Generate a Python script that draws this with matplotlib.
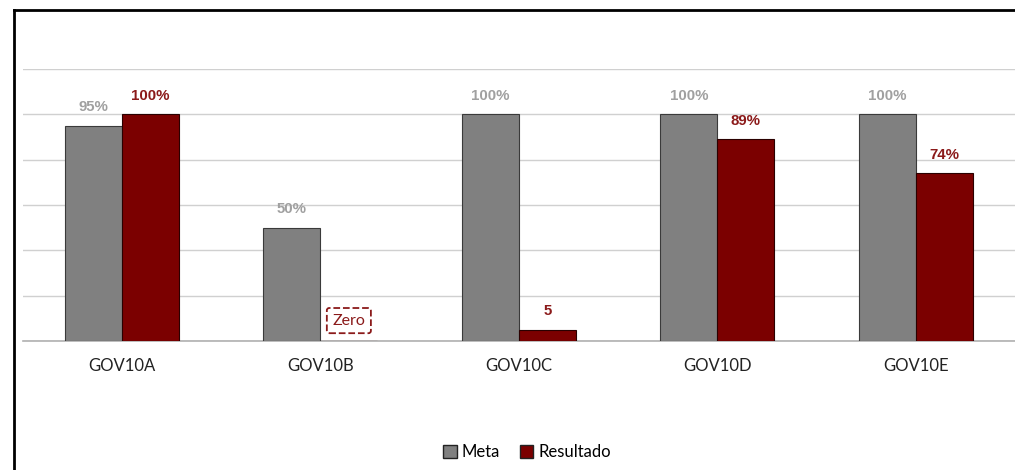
import matplotlib.pyplot as plt
import numpy as np
from matplotlib.lines import Line2D
from matplotlib.patches import Patch

categories = ["GOV10A", "GOV10B", "GOV10C", "GOV10D", "GOV10E"]
meta = [95, 50, 100, 100, 100]
resultado = [100, 0, 5, 89, 74]
meta_labels = ["95%", "50%", "100%", "100%", "100%"]
resultado_labels = ["100%", "", "5", "89%", "74%"]

gray = "#808080"
red = "#7b0000"
label_gray = "#a0a0a0"
label_red = "#8b1a1a"

fig = plt.figure(figsize=(10.15, 4.7), dpi=100)
ax = fig.add_axes([22.7 / 1015, 1 - 341 / 470, 1 - 22.7 / 1015, (341 - 69) / 470])

x = np.arange(len(categories))
w = 0.287
ax.bar(x - w / 2, meta, w, color=gray, edgecolor="#3a3a3a", linewidth=0.8, label="Meta", zorder=3)
ax.bar(x + w / 2, resultado, w, color=red, edgecolor="#2a0000", linewidth=0.8, label="Resultado", zorder=3)

# data labels
for i in range(len(categories)):
    ax.annotate(meta_labels[i], (x[i] - w / 2, meta[i]), xytext=(0, 13.5), textcoords="offset points",
                ha="center", va="center", color=label_gray, fontsize=10.8, fontweight="bold",
                family="Liberation Sans")
    if resultado_labels[i]:
        ax.annotate(resultado_labels[i], (x[i] + w / 2, resultado[i]), xytext=(0, 13.5), textcoords="offset points",
                    ha="center", va="center", color=label_red, fontsize=10.8, fontweight="bold",
                    family="Liberation Sans")

# zero box for GOV10B
ax.text(x[1] + w / 2, 9, "Zero", ha="center", va="center", color=label_red, fontsize=11.5, family="Lato",
        bbox=dict(boxstyle="round,pad=0.35,rounding_size=0.15", fc="white", ec=label_red, ls="--", lw=1.3),
        zorder=4)

ax.set_xlim(-0.5, len(categories) - 0.5)
ax.set_ylim(0, 120)
ax.set_yticks(np.arange(0, 121, 20))
ax.yaxis.grid(True, color="#d0d0d0", linewidth=1, zorder=0)
ax.set_yticklabels([])
ax.tick_params(axis="y", length=0)
ax.tick_params(axis="x", length=0, pad=12)
ax.set_xticks(x)
ax.set_xticklabels(categories, fontsize=12, family="Lato", color="#222222")
for s in ["top", "right", "left"]:
    ax.spines[s].set_visible(False)
ax.spines["bottom"].set_color("#b0b0b0")
ax.spines["bottom"].set_linewidth(1.2)
ax.set_axisbelow(True)

handles = [Patch(facecolor=gray, edgecolor="#222222", label="Meta"),
           Patch(facecolor=red, edgecolor="#222222", label="Resultado")]
fig.legend(handles=handles, loc="center", bbox_to_anchor=(527 / 1015, 1 - 452 / 470), ncol=2, frameon=False,
           prop={"family": "Lato", "size": 12}, handlelength=0.8, handleheight=0.8, handletextpad=0.3,
           columnspacing=1.2)

# outer frame (cropped)
fig.add_artist(Line2D([14 / 1015, 14 / 1015], [0, 1 - 10 / 470], color="black", lw=2, transform=fig.transFigure))
fig.add_artist(Line2D([14 / 1015, 1], [1 - 10 / 470, 1 - 10 / 470], color="black", lw=2, transform=fig.transFigure))

fig.savefig("out.png", dpi=100)
